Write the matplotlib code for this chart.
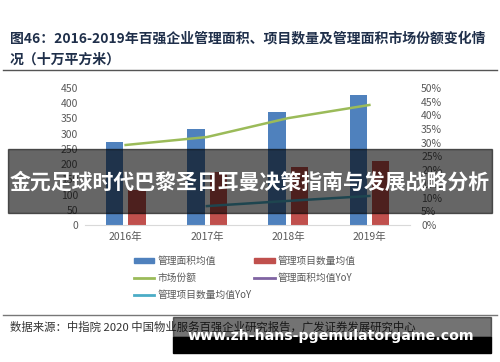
import matplotlib.pyplot as plt
from matplotlib.patches import Patch, Rectangle
from matplotlib.lines import Line2D

plt.rcParams['font.family'] = ['Noto Sans CJK SC', 'DejaVu Sans']

anos = ['2016年', '2017年', '2018年', '2019年']
area_media = [272, 314, 371, 427]          # 管理面积均值
projetos_media = [115, 174, 190, 209]      # 管理项目数量均值
market_share = [0.292, 0.321, 0.390, 0.438]  # 市场份额
yoy_area = [None, None, None, None]        # 管理面积均值YoY (nao aparece na imagem)
yoy_projetos = [None, 0.069, 0.088, 0.106]  # 管理项目数量均值YoY

azul = '#4f81bd'
vermelho = '#c0504d'
verde = '#9bbb59'
roxo = '#8064a2'
ciano = '#4bacc6'
cinza = '#595959'

fig = plt.figure(figsize=(5, 3.62), dpi=100)
W, H = 500, 362

def fy(y):
    return 1 - y / H

# titulo
fig.text(10 / W, fy(38), '图46：2016-2019年百强企业管理面积、项目数量及管理面积市场份额变化情',
         fontsize=10, fontweight='bold', color='#1f2f4a', va='center')
fig.text(10 / W, fy(60), '况（十万平方米）', fontsize=10, fontweight='bold',
         color='#1f2f4a', va='center')
fig.add_artist(Line2D([3 / W, 497 / W], [fy(70), fy(70)], color='#555555', lw=1))

ax = fig.add_axes([85 / W, fy(225), 325 / W, 137 / H])
x = list(range(len(anos)))
w = 0.215
ax.bar([i - 0.135 for i in x], area_media, w, color=azul)
ax.bar([i + 0.14 for i in x], projetos_media, w, color=vermelho)
ax.set_ylim(0, 450)
ax.set_xlim(-0.5, 3.5)
ax.set_yticks(range(0, 451, 50))
ax.set_xticks(x)
ax.set_xticklabels(anos)
for s in ['top', 'right', 'left']:
    ax.spines[s].set_visible(False)
ax.spines['bottom'].set_color('#d9d9d9')
ax.tick_params(length=0, labelsize=7.5, colors=cinza, pad=5)

ax2 = ax.twinx()
ax2.plot(x, market_share, color=verde, lw=1.8)
ax2.plot(x, yoy_area, color=roxo, lw=1.8)
ax2.plot(x, yoy_projetos, color=ciano, lw=1.8)
ax2.set_ylim(0, 0.5)
ax2.set_yticks([i * 0.05 for i in range(11)])
ax2.set_yticklabels([f'{i * 5}%' for i in range(11)])
for s in ['top', 'right', 'left', 'bottom']:
    ax2.spines[s].set_visible(False)
ax2.tick_params(length=0, labelsize=7.5, colors=cinza, pad=8)

# legenda
handles = [Patch(color=azul), Line2D([], [], color=verde, lw=2), Line2D([], [], color=ciano, lw=2),
           Patch(color=vermelho), Line2D([], [], color=roxo, lw=2)]
labels = ['管理面积均值', '市场份额', '管理项目数量均值YoY', '管理项目数量均值', '管理面积均值YoY']
leg = fig.legend(handles, labels, ncol=2, loc='upper left', bbox_to_anchor=(125 / W, fy(247)),
                 frameon=False, fontsize=7, handlelength=2.1, handleheight=0.45,
                 handletextpad=0.3, columnspacing=0.3, labelspacing=0.75)
for t in leg.get_texts():
    t.set_color(cinza)

# fonte
fig.add_artist(Line2D([3 / W, 497 / W], [fy(315), fy(315)], color='#777777', lw=1))
fig.text(10 / W, fy(327), '数据来源：中指院 2020 中国物业服务百强企业研究报告，广发证券发展研究中心',
         fontsize=8.2, color='#333333', va='center')

# faixa por cima
fig.add_artist(Rectangle((8 / W, fy(213)), 484 / W, 64 / H, transform=fig.transFigure,
                         color='black', alpha=0.6, zorder=10))
fig.text(250 / W, fy(182), '金元足球时代巴黎圣日耳曼决策指南与发展战略分析', fontsize=15,
         fontweight='bold', color='white', ha='center', va='center', zorder=11)
fig.add_artist(Rectangle((173 / W, fy(337)), 318 / W, 20 / H, transform=fig.transFigure,
                         color='black', alpha=0.55, zorder=10))
fig.add_artist(Rectangle((173 / W, fy(353)), 318 / W, 16 / H, transform=fig.transFigure,
                         color='black', zorder=10))
fig.text(331 / W, fy(336), 'www.zh-hans-pgemulatorgame.com', fontsize=10.2,
         fontweight='bold', color='white', ha='center', va='center', zorder=11,
         family='DejaVu Sans')

fig.savefig('out.png', dpi=100)
